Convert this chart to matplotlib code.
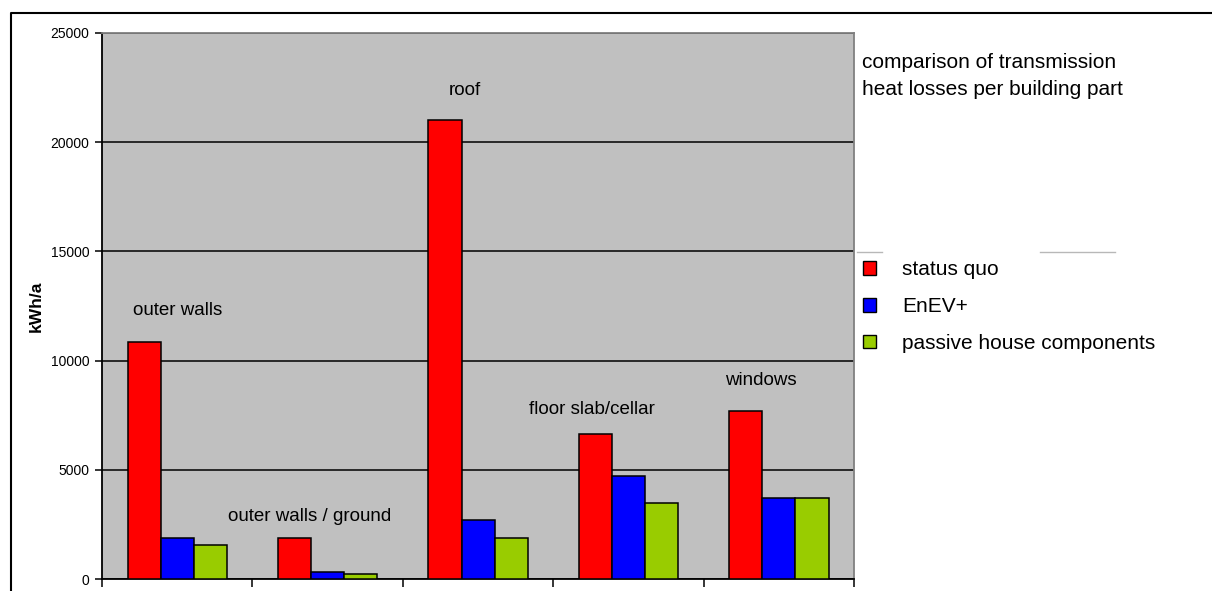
import matplotlib

matplotlib.use("Agg")
import matplotlib.pyplot as plt
import numpy as np
from matplotlib.lines import Line2D
from matplotlib.patches import Patch

plt.rcParams["font.family"] = ["Liberation Sans", "DejaVu Sans"]

# transmission heat losses per building part, kWh/a
parts = ["outer walls", "outer walls / ground", "roof", "floor slab/cellar", "windows"]
status_quo = [10850, 1880, 21000, 6630, 7700]
enev_plus = [1880, 300, 2700, 4730, 3700]
passive_house = [1560, 250, 1900, 3480, 3700]
series_names = ["status quo", "EnEV+", "passive house components"]
series_colors = ["#ff0000", "#0000ff", "#99cc00"]

# where each part name sits above its group (value axis units)
label_heights = [12300, 2850, 22350, 7750, 9100]
label_offsets = [0.0, -0.117, -0.087, -0.243, -0.117]

fig = plt.figure(figsize=(12.12, 5.91), dpi=100)
ax = fig.add_axes([0.0842, 0.0203, 0.6205, 0.9239])
ax.set_facecolor("#c0c0c0")

x = np.arange(len(parts))
width = 0.22
for i, (vals, name, color) in enumerate(zip([status_quo, enev_plus, passive_house],
                                            series_names, series_colors)):
    ax.bar(x + (i - 1) * width, vals, width, color=color, edgecolor="black",
           linewidth=1.1, label=name, zorder=3)

for xi, part, h, dx in zip(x, parts, label_heights, label_offsets):
    ax.text(xi + dx, h, part, ha="center", va="center", fontsize=13.5, zorder=4)

ax.set_xlim(-0.5, len(parts) - 0.5)
ax.set_ylim(0, 25000)
ax.set_yticks(np.arange(0, 25001, 5000))
ax.set_xticks(np.arange(-0.5, len(parts), 1.0))
ax.set_xticklabels([])
ax.tick_params(axis="y", direction="out", length=5, width=1.1, labelsize=10, pad=4)
ax.tick_params(axis="x", direction="out", length=6, width=1.1)
ax.yaxis.grid(True, color="black", linewidth=1.1, zorder=1)
ax.set_axisbelow(True)
for side in ("left", "bottom"):
    ax.spines[side].set_color("black")
    ax.spines[side].set_linewidth(1.3)
for side in ("top", "right"):
    ax.spines[side].set_color("#808080")
    ax.spines[side].set_linewidth(1.3)

ax.set_ylabel("kWh/a", fontsize=12.5, fontweight="bold")
ax.yaxis.set_label_coords(-0.077, 0.5)

fig.text(0.711, 0.871, "comparison of transmission\nheat losses per building part",
         fontsize=15, ha="left", va="center", linespacing=1.5)

handles = [Patch(facecolor=c, edgecolor="black", linewidth=1.0) for c in series_colors]
fig.legend(handles, series_names, loc="upper left", bbox_to_anchor=(0.7117, 0.5595),
           frameon=False, fontsize=15, handlelength=0.63, handleheight=0.63,
           handletextpad=1.27, labelspacing=0.85, borderaxespad=0, borderpad=0)

# faint leftovers of the legend frame
for x0, x1 in ((857, 882), (1040, 1115)):
    fig.add_artist(Line2D([x0 / 1212, x1 / 1212], [1 - 252 / 591] * 2,
                          color="#b8b8b8", linewidth=1.0))

# outer chart frame
fig.add_artist(Line2D([10.5 / 1212, 10.5 / 1212, 1.0], [0.0, 1 - 12.5 / 591, 1 - 12.5 / 591],
                      color="black", linewidth=1.5))

fig.savefig("out.png", dpi=100)
